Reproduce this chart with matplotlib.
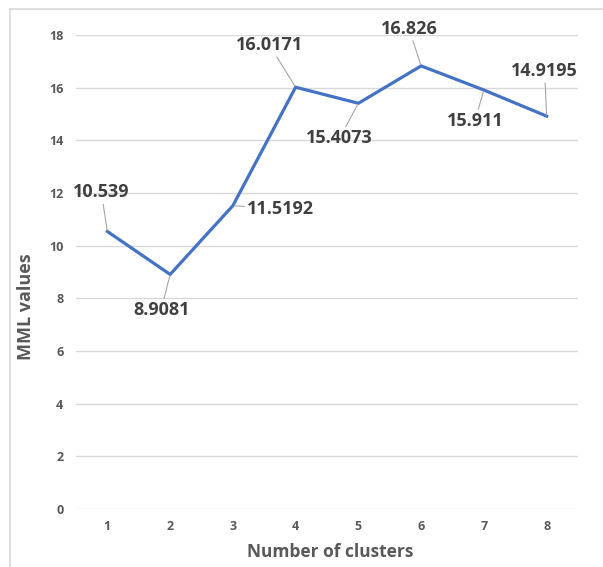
import matplotlib
matplotlib.use("Agg")
import matplotlib.pyplot as plt
from matplotlib.lines import Line2D

# Data
clusters = [1, 2, 3, 4, 5, 6, 7, 8]
mml_values = [10.539, 8.9081, 11.5192, 16.0171, 15.4073, 16.826, 15.911, 14.9195]
label_texts = ["10.539", "8.9081", "11.5192", "16.0171", "15.4073", "16.826", "15.911", "14.9195"]
y_ticks = [0, 2, 4, 6, 8, 10, 12, 14, 16, 18]

# Label placement (pixel offsets from each point)
label_offsets = [(-6, 39), (-9, -36), (48, -3), (-26, 42),
                 (-19, -35), (-12, 37), (-9, -31), (-2, 45)]

plt.rcParams["font.family"] = ["Open Sans", "DejaVu Sans"]

W, H = 603, 567
fig = plt.figure(figsize=(W / 100, H / 100), dpi=100)
fig.patch.set_facecolor("white")

# Outer chart frame
frame_col = "#d9d9d9"
fig.add_artist(Line2D([10 / W, 1.0], [1 - 8.5 / H, 1 - 8.5 / H],
                      transform=fig.transFigure, color=frame_col, lw=1.2))
fig.add_artist(Line2D([10 / W, 10 / W], [0.0, 1 - 8.5 / H],
                      transform=fig.transFigure, color=frame_col, lw=1.2))

left, right, top, bottom = 76, 578, 35, 509
ax = fig.add_axes([left / W, 1 - bottom / H, (right - left) / W, (bottom - top) / H])

ax.plot(clusters, mml_values, color="#4472C4", lw=2.3, solid_joinstyle="miter", zorder=3)

ax.set_xlim(0.5, 8.5)
ax.set_ylim(0, 18)
ax.set_yticks(y_ticks)
ax.set_xticks(clusters)
ax.grid(axis="y", color="#d9d9d9", lw=1.0)
ax.set_axisbelow(True)
for s in ax.spines.values():
    s.set_visible(False)
ax.tick_params(axis="both", length=0, labelsize=9, labelcolor="#595959")
ax.tick_params(axis="y", pad=9)
ax.tick_params(axis="x", pad=8)
for lbl in ax.get_xticklabels() + ax.get_yticklabels():
    lbl.set_fontweight("bold")

# Value labels with leader lines
for x, y, txt, (dx, dy) in zip(clusters, mml_values, label_texts, label_offsets):
    ax.annotate(txt, xy=(x, y), xytext=(dx, dy), textcoords="offset pixels",
                ha="center", va="center", fontsize=13, fontweight="bold",
                color="#404040",
                arrowprops=dict(arrowstyle="-", color="#a6a6a6", lw=0.8,
                                shrinkA=0, shrinkB=1))

ax.text((330 - left) / (right - left), (bottom - 552) / (bottom - top),
        "Number of clusters", transform=ax.transAxes, ha="center", va="center",
        fontsize=12.5, fontweight="bold", color="#595959")
ax.text((26 - left) / (right - left), (bottom - 307) / (bottom - top),
        "MML values", transform=ax.transAxes, ha="center", va="center",
        rotation=90, fontsize=13, fontweight="bold", color="#595959")

fig.savefig("out.png", dpi=100)
